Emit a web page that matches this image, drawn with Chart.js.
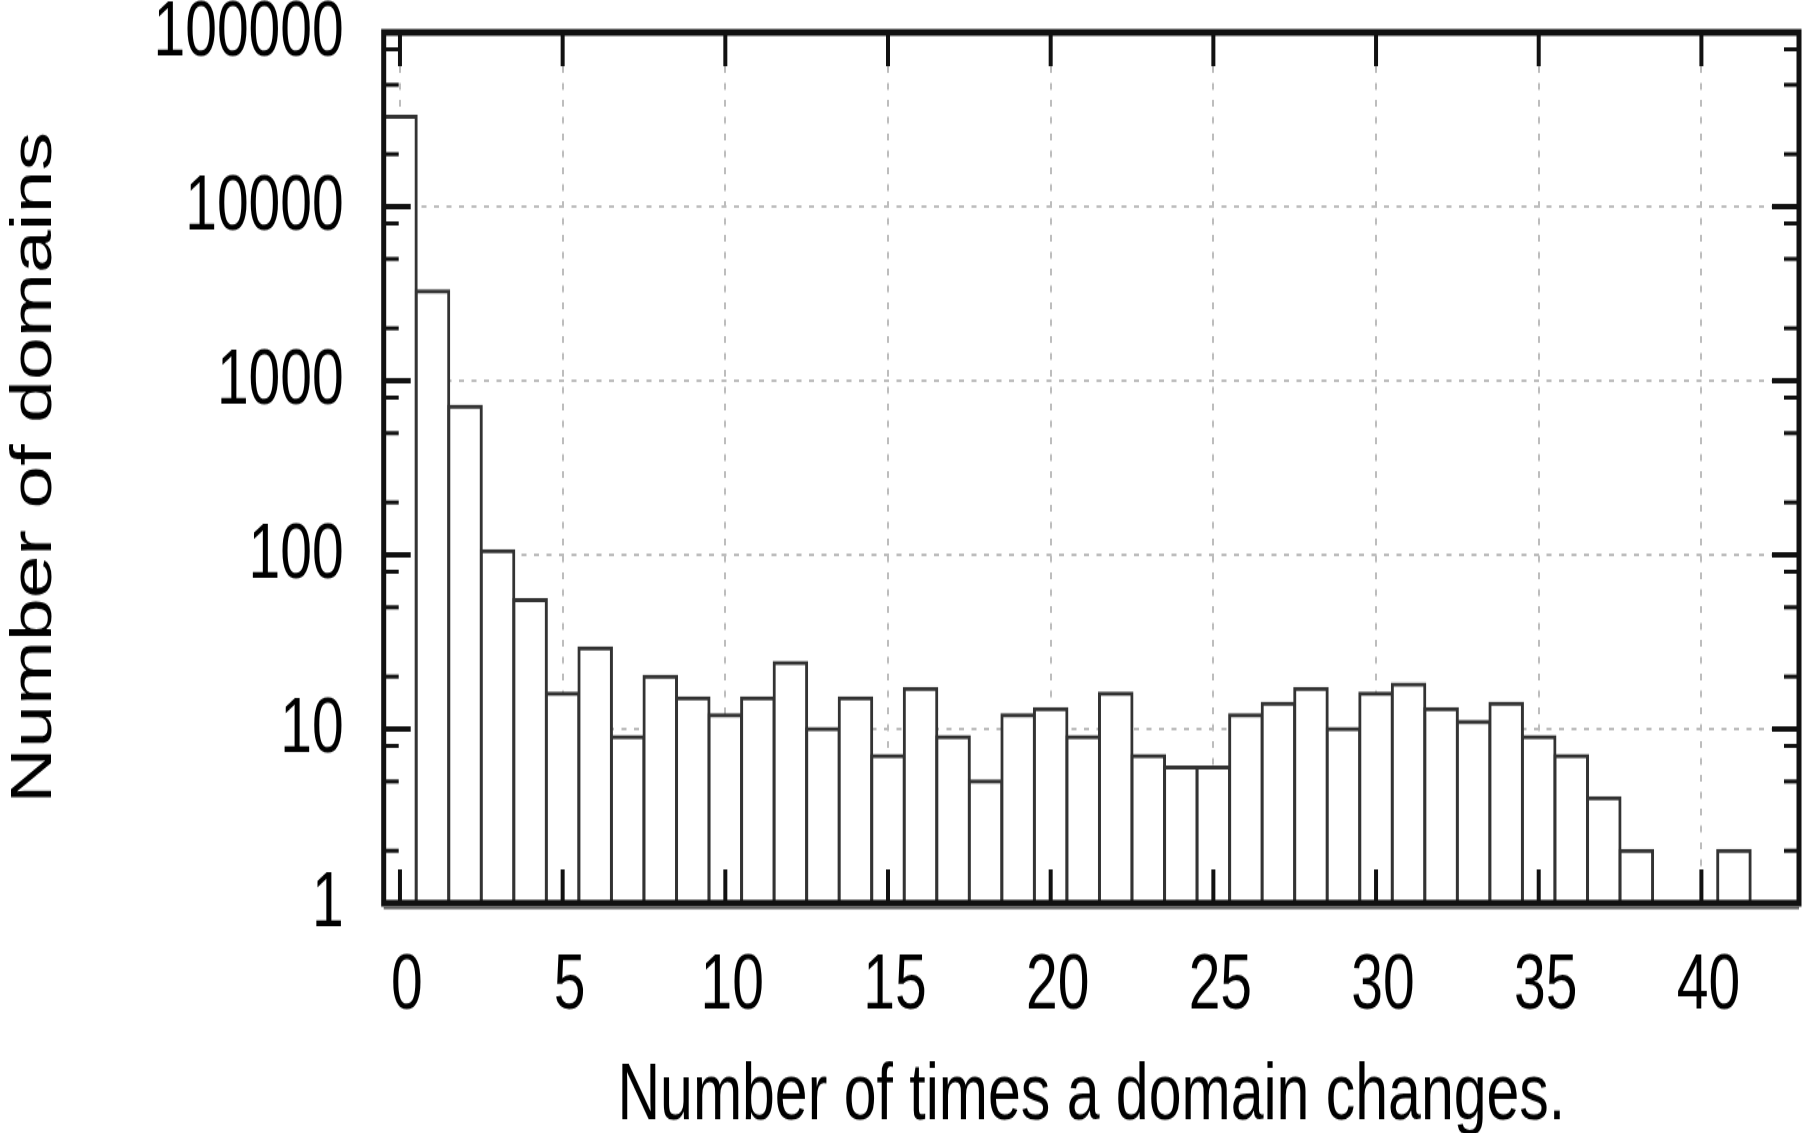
<!DOCTYPE html>
<html>
<head>
<meta charset="utf-8">
<script src="https://cdn.jsdelivr.net/npm/chart.js@4.4.1/dist/chart.umd.min.js"></script>
<style>
  html, body { margin: 0; padding: 0; background: #fff; overflow: hidden; }
  #wrap { width: 1802px; height: 1133px; overflow: hidden; }
  /* the source figure is stretched vertically, so is this one */
  #histChart { display: block; transform: scaleY(1.35); transform-origin: 0 0; }
</style>
</head>
<body>
<div id="wrap"><canvas id="histChart" width="1802" height="850"></canvas></div>
<script>
const changes = [0, 1, 2, 3, 4, 5, 6, 7, 8, 9, 10, 11, 12, 13, 14, 15, 16, 17, 18, 19, 20,
  21, 22, 23, 24, 25, 26, 27, 28, 29, 30, 31, 32, 33, 34, 35, 36, 37, 38, 39, 40, 41];
const domains = [32700, 3260, 710, 105, 55, 16, 29, 9, 20, 15, 12, 15, 24, 10, 15, 7, 17, 9, 5, 12, 13,
  9, 16, 7, 6, 6, 12, 14, 17, 10, 16, 18, 13, 11, 14, 9, 7, 4, 2, null, null, 2];
const xTicks = [0, 5, 10, 15, 20, 25, 30, 35, 40];
const yTicks = [1, 10, 100, 1000, 10000, 100000];
const yMinor = [2, 5, 8];

const FONT = "'Liberation Sans', Arial, Helvetica, sans-serif";

function line(ctx, x1, y1, x2, y2) {
  ctx.beginPath();
  ctx.moveTo(x1, y1);
  ctx.lineTo(x2, y2);
  ctx.stroke();
}

// gnuplot style frame with ticks pointing inwards on all four sides
const framePlugin = {
  id: "frame",
  afterDraw(chart) {
    const { ctx, chartArea: a, scales } = chart;
    ctx.save();
    ctx.strokeStyle = "#111";
    ctx.lineWidth = 4;
    xTicks.forEach(v => {
      const px = scales.x.getPixelForValue(v);
      line(ctx, px, a.bottom, px, a.bottom - 25);
      line(ctx, px, a.top, px, a.top + 25);
    });
    yTicks.forEach(v => {
      const py = scales.y.getPixelForValue(v);
      line(ctx, a.left, py, a.left + 27, py);
      line(ctx, a.right, py, a.right - 27, py);
    });
    ctx.lineWidth = 3;
    yTicks.slice(0, -1).forEach(d => {
      yMinor.forEach(m => {
        const py = scales.y.getPixelForValue(d * m);
        line(ctx, a.left, py, a.left + 15, py);
        line(ctx, a.right, py, a.right - 15, py);
      });
    });
    ctx.lineWidth = 5;
    ctx.strokeRect(a.left, a.top, a.right - a.left, a.bottom - a.top);
    // the bottom axis has a grey shadow under it
    ctx.strokeStyle = "#5a5a5a";
    ctx.lineWidth = 2;
    line(ctx, a.left, a.bottom + 3.5, a.right, a.bottom + 3.5);
    ctx.restore();
  }
};

new Chart(document.getElementById("histChart"), {
  type: "bar",
  data: {
    datasets: [{
      data: changes.map((c, i) => ({ x: c, y: domains[i] })),
      backgroundColor: "#fff",
      borderColor: "#333",
      borderWidth: 3,
      inflateAmount: 1.5,
      barPercentage: 1,
      categoryPercentage: 1
    }]
  },
  options: {
    responsive: false,
    animation: false,
    events: [],
    layout: { padding: { top: 24, right: 3, bottom: 0, left: 0 } },
    plugins: { legend: { display: false }, tooltip: { enabled: false } },
    scales: {
      x: {
        type: "linear",
        min: -0.5,
        max: 43,
        offset: false,
        z: 1,
        afterBuildTicks: s => { s.ticks = xTicks.map(v => ({ value: v })); },
        afterFit: s => { s.height = 181; s.paddingLeft = 0; s.paddingRight = 0; },
        grid: { offset: false, drawTicks: false, color: "#bdbdbd", lineWidth: 2 },
        border: { display: false, dash: [5, 7.5] },
        ticks: {
          padding: 28, labelOffset: 7, color: "#000", maxRotation: 0, autoSkip: false,
          font: { family: FONT, size: 57 }
        },
        title: {
          display: true,
          text: "Number of times a domain changes.",
          color: "#000",
          font: { family: FONT, size: 59 },
          padding: { top: 0, bottom: 2 }
        }
      },
      y: {
        type: "logarithmic",
        min: 1,
        max: 100000,
        z: 1,
        afterBuildTicks: s => { s.ticks = yTicks.map(v => ({ value: v })); },
        afterFit: s => { s.width = 383.7; s.paddingTop = 0; s.paddingBottom = 0; },
        grid: { drawTicks: false, color: "#bdbdbd", lineWidth: 2 },
        border: { display: false, dash: [5, 7.5] },
        ticks: {
          padding: 40, labelOffset: 1, color: "#000", autoSkip: false,
          font: { family: FONT, size: 57 },
          callback: v => String(v)
        },
        title: {
          display: true,
          text: "Number of domains",
          color: "#000",
          font: { family: FONT, size: 57 },
          padding: { top: 1, bottom: 0 }
        }
      }
    }
  },
  plugins: [framePlugin]
});
</script>
</body>
</html>
